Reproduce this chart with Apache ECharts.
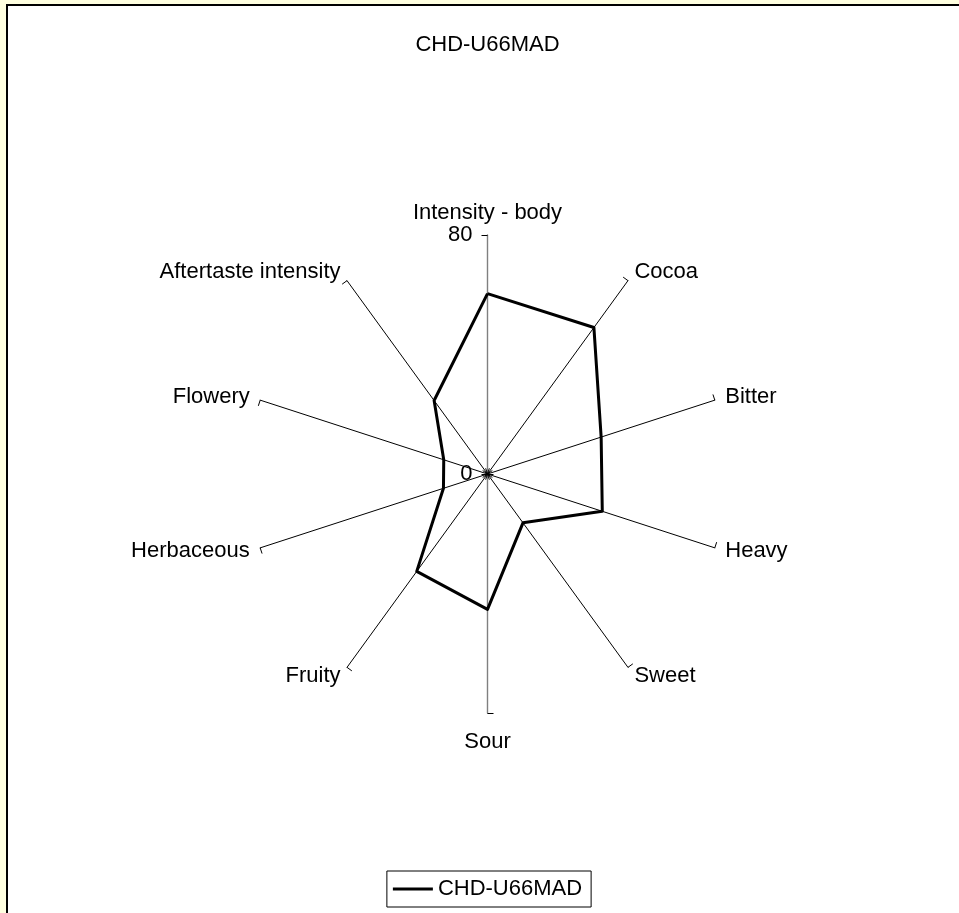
<!DOCTYPE html>
<html>
<head>
<meta charset="utf-8">
<script src="https://cdn.jsdelivr.net/npm/echarts@6/dist/echarts.min.js"></script>
<style>
html,body{margin:0;padding:0;width:959px;height:913px;overflow:hidden;background:#ffffe0;}
#frame{position:absolute;left:6px;top:4px;width:1000px;height:1000px;background:#fff;border-top:2px solid #000;border-left:2px solid #000;}
#chart{position:absolute;left:0;top:0;width:975px;height:913px;}
</style>
</head>
<body>
<div id="frame"></div>
<div id="chart"></div>
<script>
// ---- data ----
const chartTitle = 'CHD-U66MAD';
const seriesName = 'CHD-U66MAD';
const categories = ['Intensity - body', 'Cocoa', 'Bitter', 'Heavy', 'Sweet', 'Sour', 'Fruity', 'Herbaceous', 'Flowery', 'Aftertaste intensity'];
const values = [60.4, 60.6, 40, 40.4, 20.2, 45.3, 40.3, 15.5, 15.4, 30.4];
const axisMin = 0;
const axisMax = 80;
const tickLabels = [0, 80];

// ---- build ----
const FONT = '"Liberation Sans", Arial, sans-serif';
// ECharts places radar indicators counter-clockwise; reorder so they run clockwise from the top
const order = [0];
for (let i = categories.length - 1; i >= 1; i--) order.push(i);
const half = categories.length / 2;

const indicator = order.map(function (i) {
  const ind = { name: categories[i], min: axisMin, max: axisMax };
  if (i === 0 || i === half) {
    ind.axisLine = { lineStyle: { color: '#808080', width: 1.4 } };
  }
  if (i === half) {
    ind.nameGap = 18;
  }
  if (i === 0) {
    ind.axisLabel = {
      show: true, color: '#000', fontSize: 22, fontFamily: FONT, margin: 15,
      formatter: function (v) { return tickLabels.indexOf(v) >= 0 ? String(v) : ''; }
    };
  }
  return ind;
});

const chart = echarts.init(document.getElementById('chart'), null, { renderer: 'canvas' });
chart.setOption({
  animation: false,
  backgroundColor: 'transparent',
  title: {
    text: chartTitle, left: 'center', top: 34, padding: 0,
    textStyle: { fontSize: 22, fontWeight: 'normal', color: '#000', fontFamily: FONT }
  },
  legend: {
    left: 'center', top: 871,
    data: [seriesName],
    icon: 'rect', itemWidth: 40, itemHeight: 3,
    borderColor: '#000', borderWidth: 1,
    padding: [7, 9, 7, 6],
    textStyle: { fontSize: 22, color: '#000', fontFamily: FONT }
  },
  radar: {
    center: ['50%', 474], radius: 239, startAngle: 90,
    splitNumber: 1, shape: 'polygon',
    nameGap: 11,
    axisName: { color: '#000', fontSize: 22, fontFamily: FONT },
    axisLine: { lineStyle: { color: '#000', width: 1 } },
    axisTick: { show: true, length: 6, lineStyle: { color: '#000', width: 1 } },
    axisLabel: { show: false },
    splitLine: { show: false },
    splitArea: { show: false },
    indicator: indicator
  },
  series: [{
    type: 'radar',
    name: seriesName,
    symbol: 'none',
    itemStyle: { color: '#000' },
    lineStyle: { color: '#000', width: 3 },
    data: [{ name: seriesName, value: order.map(function (i) { return values[i]; }) }]
  }]
});
</script>
</body>
</html>
